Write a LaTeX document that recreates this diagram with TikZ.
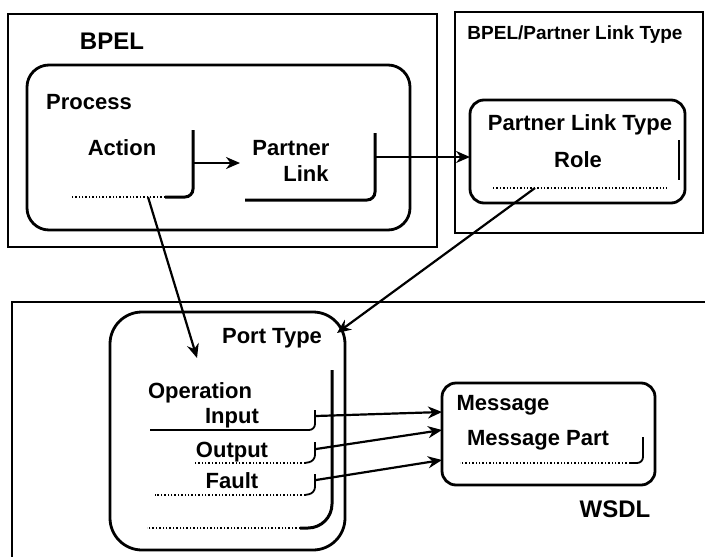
\documentclass[tikz,border=0pt]{standalone}
\usepackage{fontspec}
\setmainfont{Liberation Sans}
\usetikzlibrary{positioning,arrows.meta}

\begin{document}
\begin{tikzpicture}[x=0.5pt,y=-0.5pt,
    lbl/.style={font=\bfseries\fontsize{11}{13}\selectfont, inner sep=0pt, anchor=base},
    biglbl/.style={lbl, font=\bfseries\fontsize{12}{14}\selectfont},
    smalllbl/.style={lbl, font=\bfseries\fontsize{9.5}{11}\selectfont},
    outerbox/.style={draw, line width=1.1pt},
    roundbox/.style={draw, line width=1.4pt, rounded corners=7pt},
    sideline/.style={line width=1.5pt, rounded corners=4pt},
    faint/.style={densely dotted, line width=0.7pt},
    tick/.style={line width=0.9pt},
    link/.style={-{Stealth[length=7pt,width=6pt]}, line width=1.1pt}]
    \useasboundingbox (0,0) rectangle (705,556);

    % Draw outer frames
    \draw[outerbox] (8,14) rectangle (437,247);
    \draw[outerbox] (455,12) rectangle (703,233);
    \draw[outerbox] (12,560) -- (12,302) -- (710,302);

    % BPEL side
    \node[biglbl] (bpel) at (112,50) {BPEL};
    \draw[roundbox, rounded corners=11pt] (27,65) rectangle (410,230);
    \node[lbl] (process) at (89,110) {Process};

    \node[lbl] (action) at (122,155) {Action};
    \draw[sideline] (193,130) -- (193,197) -- (165,197);
    \draw[faint] (165,197) -- (72,197);
    \coordinate (actionR) at (193,163);
    \coordinate (actionB) at (148,197);

    \node[lbl] (partner) at (291,155) {Partner};
    \node[lbl] (link) at (306,181) {Link};
    \draw[sideline] (375,133) -- (375,200) -- (245,200);
    \coordinate (linkL) at (240,163);
    \coordinate (linkR) at (376,157);

    % Partner link type side
    \node[smalllbl] (bpelplt) at (575,40) {BPEL/Partner Link Type};
    \draw[roundbox] (470,100) rectangle (685,203);
    \node[lbl] (plt) at (580,130) {Partner Link Type};
    \node[lbl] (role) at (578,167) {Role};
    \draw[faint] (493,188) -- (667,188);
    \draw[line width=1.3pt] (679,140) -- (679,180);
    \coordinate (pltL) at (470,157);
    \coordinate (roleB) at (535,188);

    % WSDL side
    \draw[roundbox, rounded corners=16pt] (110,312) rectangle (345,550);
    \node[lbl] (porttype) at (272,343) {Port Type};
    \coordinate (portC) at (337,333);
    \coordinate (portT) at (197,358);

    \draw[sideline, rounded corners=12pt] (332,370) -- (332,528) -- (300,528);
    \draw[faint] (300,528) -- (147,528);
    \node[lbl] (operation) at (200,398) {Operation};

    \node[lbl] (input) at (232,423) {Input};
    \node[lbl] (output) at (232,457) {Output};
    \node[lbl] (fault) at (232,488) {Fault};
    \draw[tick, rounded corners=3pt] (315,410) -- (315,430) -- (150,430);
    \draw[tick, rounded corners=3pt] (315,442) -- (315,461) -- (305,463);
    \draw[faint] (305,463) -- (193,463);
    \draw[tick, rounded corners=3pt] (315,474) -- (315,493) -- (305,495);
    \draw[faint] (305,495) -- (155,495);
    \coordinate (inR) at (316,416);
    \coordinate (outR) at (316,449);
    \coordinate (faultR) at (316,480);

    \draw[roundbox] (442,383) rectangle (655,485);
    \node[lbl] (message) at (503,410) {Message};
    \node[lbl] (msgpart) at (538,445) {Message Part};
    \draw[tick, rounded corners=3pt] (643,437) -- (643,463) -- (630,463);
    \draw[faint] (630,463) -- (460,463);
    \coordinate (msgA) at (442,412);
    \coordinate (msgB) at (442,430);
    \coordinate (msgC) at (442,460);

    \node[biglbl] (wsdl) at (615,517) {WSDL};

    % Draw the links
    \draw[link] (actionR) -- (linkL);
    \draw[link] (linkR) -- (pltL);
    \draw[link] (actionB) -- (portT);
    \draw[link] (roleB) -- (portC);
    \draw[link] (inR) -- (msgA);
    \draw[link] (outR) -- (msgB);
    \draw[link] (faultR) -- (msgC);
\end{tikzpicture}
\end{document}
